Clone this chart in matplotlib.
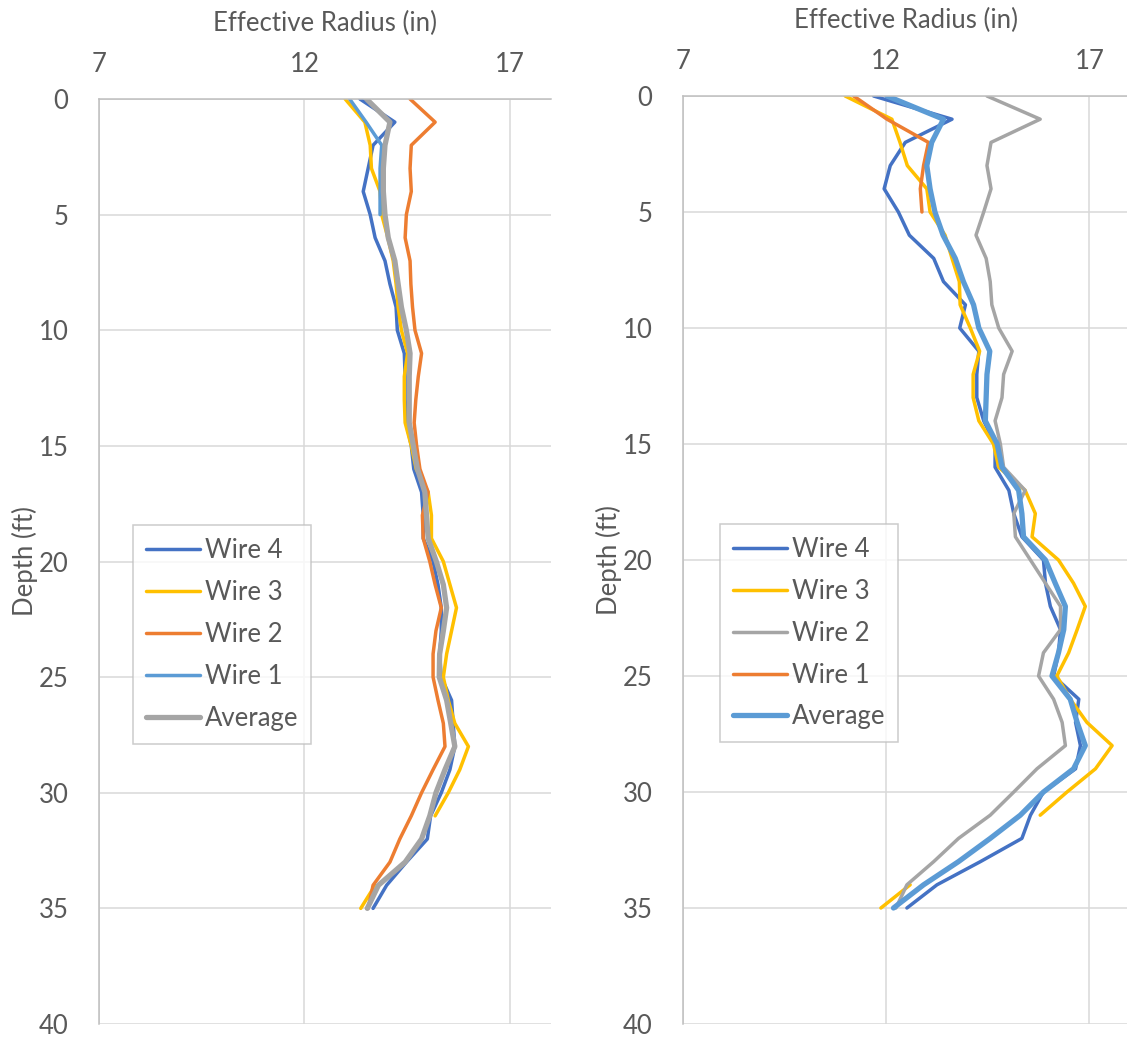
import numpy as np
import matplotlib
matplotlib.use("Agg")
import matplotlib.pyplot as plt

nan = np.nan

depth = list(range(36))
x_ticks = [7, 12, 17]
y_ticks = [0, 5, 10, 15, 20, 25, 30, 35, 40]

# left chart
left_names = ["Wire 4", "Wire 3", "Wire 2", "Wire 1", "Average"]
left_wire4 = [13.35, 14.2, 13.67, 13.55, 13.43, 13.6, 13.72, 13.96, 14.08, 14.23,
              14.26, 14.43, 14.45, 14.45, 14.48, 14.6, 14.66, 14.85, 14.89, 14.89,
              15.13, 15.25, 15.33, 15.33, 15.29, 15.33, 15.58, 15.62, 15.66, 15.54,
              15.33, 15.07, 14.99, 14.48, 14.0, 13.67]
left_wire3 = [12.99, 13.47, 13.6, 13.63, 13.84, 13.88, 14.03, 14.16, 14.23, 14.28,
              14.36, 14.51, 14.43, 14.43, 14.45, 14.6, 14.72, 15.01, 15.09, 15.09,
              15.38, 15.54, 15.7, 15.58, 15.46, 15.38, 15.5, 15.66, 15.99, 15.78,
              15.5, 15.18, nan, nan, 13.72, 13.37]
left_wire2 = [14.57, 15.18, 14.6, 14.57, 14.6, 14.48, 14.45, 14.57, 14.59, 14.63,
              14.69, 14.85, 14.77, 14.71, 14.67, 14.73, 14.81, 15.01, 14.87, 14.89,
              15.05, 15.18, 15.33, 15.2, 15.13, 15.13, 15.25, 15.38, 15.42, 15.13,
              14.85, 14.6, 14.32, 14.08, 13.67, 13.55]
left_wire1 = [13.1, 13.5, 13.88, 13.84, 13.84, 13.84] + [nan] * 30
left_avg = [13.51, 14.08, 13.96, 13.92, 13.92, 13.96, 14.04, 14.2, 14.28, 14.36,
            14.48, 14.57, 14.55, 14.55, 14.55, 14.65, 14.75, 14.93, 14.97, 15.01,
            15.21, 15.38, 15.46, 15.38, 15.29, 15.28, 15.46, 15.56, 15.66, 15.42,
            15.2, 15.05, 14.85, 14.45, 13.8, 13.53]

# right chart
right_names = ["Wire 4", "Wire 3", "Wire 2", "Wire 1", "Average"]
right_wire4 = [11.69, 13.62, 12.47, 12.1, 11.95, 12.3, 12.57, 13.17, 13.41, 13.95,
               13.81, 14.28, 14.23, 14.23, 14.4, 14.68, 14.68, 15.02, 15.14, 15.34,
               15.87, 15.92, 16.04, 16.29, 16.24, 16.12, 16.74, 16.66, 16.78, 16.66,
               15.87, 15.55, 15.34, 14.32, 13.25, 12.51]
right_wire3 = [10.99, 12.14, 12.34, 12.52, 13.0, 13.08, 13.45, 13.62, 13.8, 13.82,
               14.07, 14.3, 14.14, 14.14, 14.28, 14.64, 14.77, 15.42, 15.67, 15.59,
               16.24, 16.61, 16.9, 16.7, 16.49, 16.2, 16.53, 16.94, 17.56, 17.15,
               16.45, 15.79, nan, nan, 12.59, 11.87]
right_wire2 = [14.48, 15.79, 14.58, 14.48, 14.58, 14.4, 14.21, 14.46, 14.56, 14.6,
               14.77, 15.1, 14.89, 14.85, 14.68, 14.81, 14.89, 15.42, 15.14, 15.18,
               15.55, 15.92, 16.29, 16.29, 15.87, 15.75, 16.12, 16.33, 16.41, 15.71,
               15.14, 14.56, 13.78, 13.17, 12.51, 12.24]
right_wire1 = [11.2, 12.02, 13.04, 12.92, 12.84, 12.88] + [nan] * 30
right_avg = [12.02, 13.41, 13.12, 13.0, 13.08, 13.2, 13.4, 13.7, 13.9, 14.15,
             14.28, 14.55, 14.48, 14.46, 14.44, 14.73, 14.85, 15.26, 15.34, 15.38,
             15.92, 16.16, 16.41, 16.37, 16.24, 16.08, 16.53, 16.7, 16.9, 16.61,
             15.87, 15.3, 14.56, 13.78, 12.92, 12.18]

BLUE = "#4472C4"
YELLOW = "#FFC000"
ORANGE = "#ED7D31"
LIGHTBLUE = "#5B9BD5"
GRAY = "#A5A5A5"
TEXT = "#595959"
FS = 18.5

plt.rcParams["font.family"] = ["Lato", "DejaVu Sans"]


def style_axes(ax):
    ax.set_xlim(7, 18)
    ax.set_ylim(40, 0)
    ax.set_xticks(x_ticks)
    ax.set_yticks(y_ticks)
    ax.xaxis.tick_top()
    ax.xaxis.set_label_position("top")
    ax.tick_params(length=0, labelsize=FS, colors=TEXT)
    ax.tick_params(axis="x", pad=16)
    ax.tick_params(axis="y", pad=22)
    ax.grid(True, color="#d9d9d9", linewidth=1.1)
    ax.set_axisbelow(True)
    for side in ["right", "bottom"]:
        ax.spines[side].set_visible(False)
    for side in ["top", "left"]:
        ax.spines[side].set_color("#bfbfbf")
        ax.spines[side].set_linewidth(1.1)
    ax.set_xlabel("Effective Radius (in)", fontsize=FS, color=TEXT, labelpad=15)
    ax.set_ylabel("Depth (ft)", fontsize=FS, color=TEXT, labelpad=0)


def draw_panel(ax, series, names, colors, legend_x):
    for vals, name, col in zip(series, names, colors):
        lw = 3.8 if name == "Average" else 2.5
        ax.plot(vals, depth, color=col, linewidth=lw, label=name,
                solid_joinstyle="round", solid_capstyle="round")
    style_axes(ax)
    leg = ax.legend(loc="upper left", bbox_to_anchor=(legend_x, 0.539),
                    fontsize=FS, frameon=True, fancybox=False,
                    edgecolor="#bfbfbf", borderaxespad=0, handlelength=2.1,
                    handletextpad=0.2, labelspacing=0.66, borderpad=0.5)
    leg.get_frame().set_linewidth(1.1)
    for t in leg.get_texts():
        t.set_color(TEXT)


def main():
    fig = plt.figure(figsize=(11.27, 10.4), dpi=100)
    ax1 = fig.add_axes([99 / 1127, 16 / 1040, 452 / 1127, 925 / 1040])
    ax2 = fig.add_axes([683 / 1127, 16 / 1040, 447 / 1127, 928 / 1040])

    draw_panel(ax1, [left_wire4, left_wire3, left_wire2, left_wire1, left_avg],
               left_names, [BLUE, YELLOW, ORANGE, LIGHTBLUE, GRAY], 0.075)
    draw_panel(ax2, [right_wire4, right_wire3, right_wire2, right_wire1, right_avg],
               right_names, [BLUE, YELLOW, GRAY, ORANGE, LIGHTBLUE], 0.083)

    fig.savefig("out.png", dpi=100)


if __name__ == "__main__":
    main()
